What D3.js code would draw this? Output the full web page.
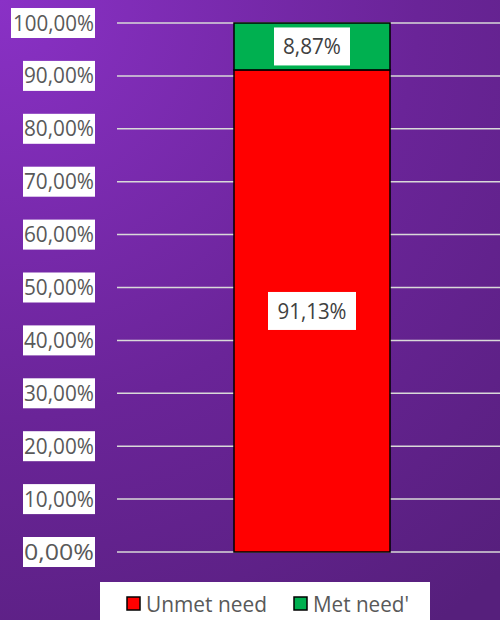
<!DOCTYPE html>
<html><head><meta charset="utf-8">
<script src="https://cdn.jsdelivr.net/npm/d3@7"></script>
<style>body{margin:0;padding:0;overflow:hidden}</style>
</head><body>
<script>
const categories = ["Need"];
const seriesNames = ["Unmet need", "Met need'"];
const unmetNeed = [91.13];
const metNeed = [8.87];
const seriesColors = ["#FF0000", "#00B050"];
const tickValues = [0,10,20,30,40,50,60,70,80,90,100];
const fmt = v => d3.format(".2f")(v).replace(".", ",") + "%";

const W = 500, H = 620;
const svg = d3.select("body").append("svg").attr("width", W).attr("height", H)
  .style("font-family", "'Open Sans', 'Noto Sans', sans-serif");

const defs = svg.append("defs");
const grad = defs.append("radialGradient").attr("id","bg")
  .attr("gradientUnits","userSpaceOnUse").attr("cx",0).attr("cy",0).attr("r",760);
grad.append("stop").attr("offset","0%").attr("stop-color","#8A31C6");
grad.append("stop").attr("offset","55%").attr("stop-color","#6A2498");
grad.append("stop").attr("offset","100%").attr("stop-color","#561F7C");
svg.append("rect").attr("width",W).attr("height",H).attr("fill","url(#bg)");

const y = d3.scaleLinear().domain([0,100]).range([552, 23]);

// gridlines
svg.append("g").selectAll("line").data(tickValues).join("line")
  .attr("x1", 117).attr("x2", 500)
  .attr("y1", d => y(d)).attr("y2", d => y(d))
  .attr("stroke", "#D9D9D9").attr("stroke-width", 1.5);

// tick labels with white boxes
const tg = svg.append("g").selectAll("g").data(tickValues).join("g")
  .attr("transform", d => `translate(95,${y(d)})`);
tg.append("text").text(fmt).attr("text-anchor","end").attr("dy","0.36em")
  .attr("x", -1).attr("font-size", 21).attr("fill","#595959")
  .attr("textLength", d => d === 100 ? 81 : 70).attr("lengthAdjust","spacingAndGlyphs");
tg.insert("rect","text").attr("x", d => d === 100 ? -84 : -72).attr("y",-15)
  .attr("width", d => d === 100 ? 84 : 72).attr("height",30).attr("fill","#fff");

// stacked bars
const data = categories.map((c,i) => ({cat:c, "Unmet need": unmetNeed[i], "Met need'": metNeed[i]}));
const stack = d3.stack().keys(seriesNames)(data);
const x = d3.scaleBand().domain(categories).range([234, 390]);
const layers = svg.append("g").selectAll("g").data(stack).join("g")
  .attr("fill", (d,i) => seriesColors[i]);
layers.selectAll("rect").data(d => d).join("rect")
  .attr("x", d => x(d.data.cat)).attr("width", x.bandwidth())
  .attr("y", d => y(d[1])).attr("height", d => y(d[0]) - y(d[1]))
  .attr("stroke", "#000").attr("stroke-width", 1.5);

// data labels
stack.forEach((layer, li) => {
  layer.forEach(d => {
    const v = d[1] - d[0];
    const cy = y(d[0] + v*0.5);
    const cx = x(d.data.cat) + x.bandwidth()/2;
    const g = svg.append("g").attr("transform", `translate(${cx},${cy})`);
    const w = li === 0 ? 88 : 76;
    g.append("rect").attr("x", -w/2).attr("y", -19).attr("width", w).attr("height", 38).attr("fill","#fff");
    g.append("text").text(fmt(v)).attr("text-anchor","middle").attr("dy","0.36em")
      .attr("font-size", 21).attr("fill","#404040")
      .attr("textLength", li === 0 ? 69 : 58).attr("lengthAdjust","spacingAndGlyphs");
  });
});

// legend
const lg = svg.append("g");
lg.append("rect").attr("x",100).attr("y",582).attr("width",330).attr("height",40).attr("fill","#fff");
const legendItems = [{x:127, tx:146, tl:121}, {x:294, tx:313, tl:96}];
seriesNames.forEach((n,i) => {
  const it = legendItems[i];
  lg.append("rect").attr("x", it.x).attr("y", 597).attr("width", 13).attr("height", 13)
    .attr("fill", seriesColors[i]).attr("stroke","#000").attr("stroke-width",1.5);
  lg.append("text").attr("x", it.tx).attr("y", 604).attr("dy","0.36em").text(n)
    .attr("font-size", 22.5).attr("fill","#595959")
    .attr("textLength", it.tl).attr("lengthAdjust","spacingAndGlyphs");
});
</script>
</body></html>
